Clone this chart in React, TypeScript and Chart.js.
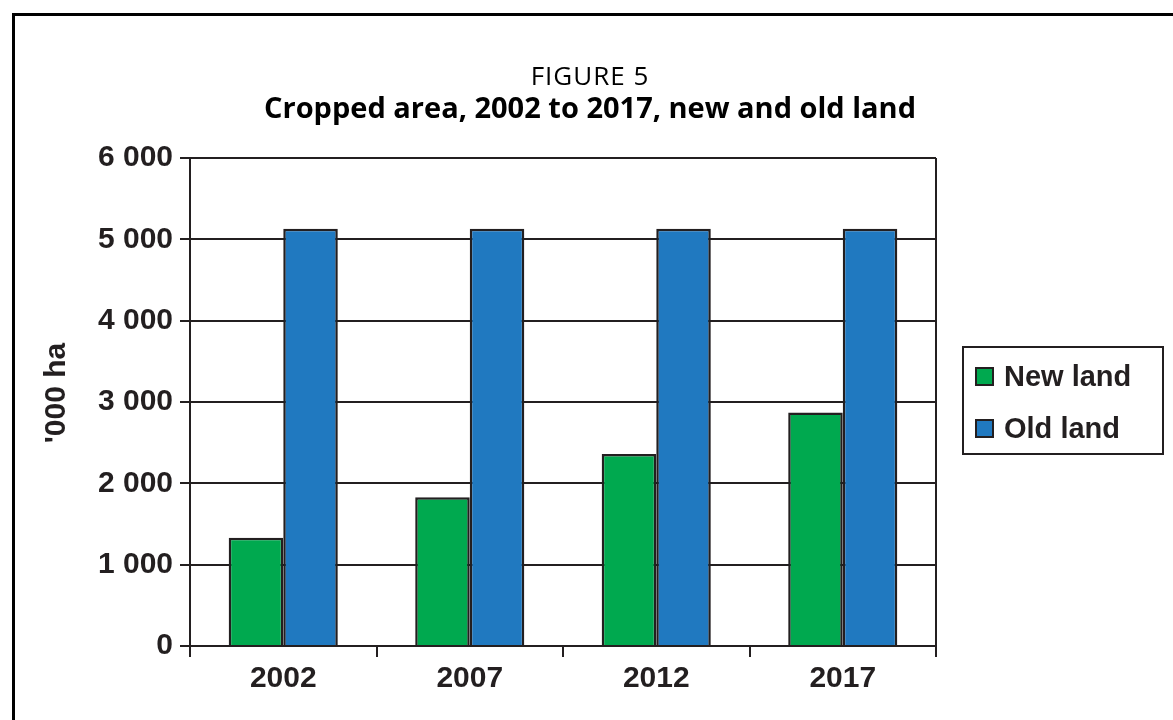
import React, { useEffect, useRef } from "react";
import { Chart, registerables } from "chart.js";

Chart.register(...registerables);

const categories = ["2002", "2007", "2012", "2017"];
const newLand = [1330, 1830, 2360, 2870];
const oldLand = [5130, 5130, 5130, 5130];
const seriesNames = ["New land", "Old land"];
const yTicks = [0, 1000, 2000, 3000, 4000, 5000, 6000];
const figureLabel = "FIGURE 5";
const titleText = "Cropped area, 2002 to 2017, new and old land";
const yTitle = "'000 ha";

const INK = "#231f20";
const GREEN = "#00a94f";
const BLUE = "#2079c0";
const SANS = "'Liberation Sans', Arial, sans-serif";
const TITLE_FONT = "'Open Sans', 'Noto Sans', sans-serif";

const fmt = (v: number) => {
  if (v === 0) return "0";
  const th = Math.floor(v / 1000);
  const rest = String(v % 1000).padStart(3, "0");
  return `${th} ${rest}`;
};

const decorPlugin = {
  id: "decor",
  beforeDraw(chart: any) {
    const ctx = chart.ctx;
    ctx.save();
    ctx.fillStyle = "#ffffff";
    ctx.fillRect(0, 0, chart.width, chart.height);
    ctx.fillStyle = "#000000";
    ctx.fillRect(12, 13, 3, chart.height);
    ctx.fillRect(12, 13, chart.width, 3);
    // titles
    ctx.fillStyle = "#000000";
    ctx.textAlign = "center";
    ctx.textBaseline = "middle";
    ctx.font = `400 26px ${TITLE_FONT}`;
    try { (ctx as any).letterSpacing = "1px"; } catch (e) {}
    ctx.fillText(figureLabel, 590, 78);
    try { (ctx as any).letterSpacing = "0px"; } catch (e) {}
    ctx.font = `700 29px ${TITLE_FONT}`;
    ctx.fillText(titleText, 590, 110);
    // y axis title
    ctx.save();
    ctx.translate(57, 393);
    ctx.rotate(-Math.PI / 2);
    ctx.fillStyle = INK;
    ctx.font = `700 30px ${SANS}`;
    ctx.fillText(yTitle, 0, 0);
    ctx.restore();
    ctx.restore();
  },
  afterDraw(chart: any) {
    const ctx = chart.ctx;
    const a = chart.chartArea;
    ctx.save();
    ctx.strokeStyle = INK;
    ctx.lineWidth = 2;
    ctx.beginPath();
    ctx.moveTo(a.right, a.top);
    ctx.lineTo(a.right, a.bottom);
    ctx.stroke();
    // legend
    const lx = 963, ly = 347, lw = 200, lh = 107;
    ctx.strokeRect(lx, ly, lw, lh);
    const rows = [377, 429];
    chart.data.datasets.forEach((ds: any, i: number) => {
      const cy = rows[i];
      ctx.fillStyle = ds.backgroundColor;
      ctx.fillRect(976, cy - 9, 17, 17);
      ctx.strokeStyle = INK;
      ctx.lineWidth = 2;
      ctx.strokeRect(976, cy - 9, 17, 17);
      ctx.fillStyle = INK;
      ctx.font = `700 29px ${SANS}`;
      ctx.textAlign = "left";
      ctx.textBaseline = "middle";
      ctx.fillText(ds.label, 1004, cy + 1);
    });
    ctx.restore();
  },
};

export default function App() {
  const ref = useRef<HTMLCanvasElement | null>(null);
  useEffect(() => {
    document.body.style.margin = "0";
    if (!ref.current) return;
    const chart = new Chart(ref.current, {
      type: "bar",
      data: {
        labels: categories,
        datasets: [
          {
            label: seriesNames[0],
            data: newLand,
            backgroundColor: GREEN,
            borderColor: INK,
            borderWidth: 2.5,
            borderSkipped: "bottom",
            categoryPercentage: 0.585,
            barPercentage: 1,
          },
          {
            label: seriesNames[1],
            data: oldLand,
            backgroundColor: BLUE,
            borderColor: INK,
            borderWidth: 2.5,
            borderSkipped: "bottom",
            categoryPercentage: 0.585,
            barPercentage: 1,
          },
        ],
      },
      options: {
        responsive: false,
        animation: false,
        devicePixelRatio: 1,
        layout: { padding: { top: 158, right: 237, left: 0, bottom: 0 } },
        plugins: {
          legend: { display: false },
          title: { display: false },
          tooltip: { enabled: false },
        },
        scales: {
          x: {
            afterFit: (s: any) => { s.height = 74; },
            grid: {
              offset: true,
              drawOnChartArea: false,
              color: INK,
              lineWidth: 2,
              tickLength: 11,
            },
            border: { display: true, color: INK, width: 2 },
            ticks: {
              color: INK,
              padding: 4,
              font: { family: SANS, size: 30, weight: "bold" },
            },
          },
          y: {
            min: 0,
            max: 6000,
            afterFit: (s: any) => { s.width = 190; },
            afterBuildTicks: (s: any) => { s.ticks = yTicks.map((v) => ({ value: v })); },
            grid: { color: INK, lineWidth: 2, tickLength: 10 },
            border: { display: true, color: INK, width: 2 },
            ticks: {
              color: INK,
              padding: 7,
              font: { family: SANS, size: 30, weight: "bold" },
              callback: (v: any) => fmt(Number(v)),
            },
            title: { display: false, text: yTitle },
          },
        },
      },
      plugins: [decorPlugin],
    });
    return () => chart.destroy();
  }, []);
  return <canvas ref={ref} width={1173} height={720} style={{ display: "block" }} />;
}
